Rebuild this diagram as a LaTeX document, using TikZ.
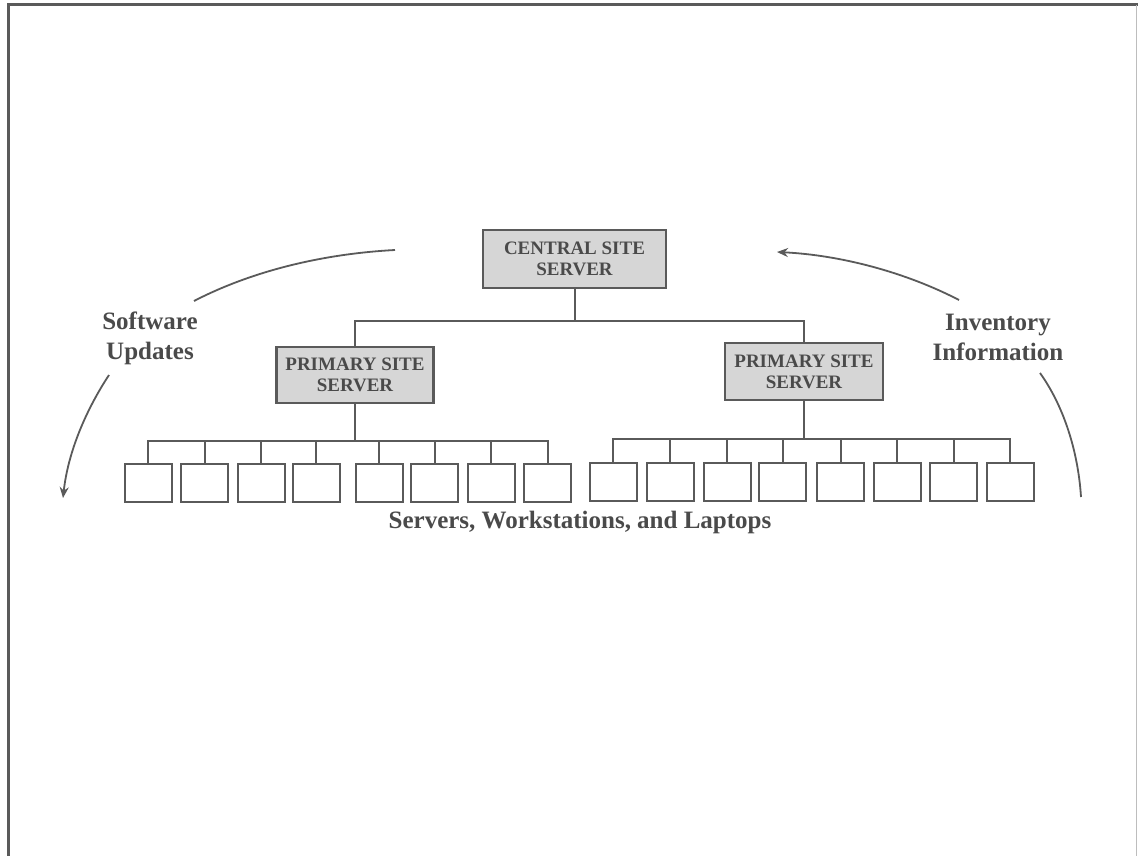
\documentclass[tikz,border=0pt]{standalone}
\usepackage{fontspec}
\setmainfont{Liberation Serif}
\usetikzlibrary{arrows.meta}
\definecolor{ink}{HTML}{5A5A5A}
\definecolor{txt}{HTML}{4A4A4A}
\definecolor{boxfill}{HTML}{D6D6D6}
\begin{document}
\begin{tikzpicture}[x=1pt,y=-1pt,
  line/.style={draw=ink,line width=2pt},
  server/.style={draw=ink,line width=2.2pt,fill=boxfill,inner sep=0pt,
    align=center,text=txt,font=\fontsize{19}{21}\selectfont\bfseries},
  leaf/.style={draw=ink,line width=2pt,fill=white,minimum width=47pt,
    minimum height=38pt,inner sep=0pt},
  caption/.style={text=txt,align=center,font=\fontsize{25}{30}\selectfont\bfseries},
  flow/.style={draw=ink,line width=1.8pt},
  tip/.style={-{Stealth[length=11pt,width=9pt]}}]
\useasboundingbox (0,0) rectangle (1138,856);
\fill[white] (0,0) rectangle (1138,856);

% page frame
\draw[ink,line width=3pt] (8,856) -- (8,5) -- (1138,5);
\draw[ink!40,line width=1pt] (1136.5,5) -- (1136.5,856);

% servers
\node[server,minimum width=183pt,minimum height=58pt] (central) at (574.5,259)
  {CENTRAL SITE\\SERVER};
\node[server,minimum width=157pt,minimum height=56pt] (pl) at (355,375)
  {PRIMARY SITE\\SERVER};
\node[server,minimum width=158pt,minimum height=57pt] (pr) at (804,371.5)
  {PRIMARY SITE\\SERVER};

\draw[line] (central.south) -- ++(0,32) -| (pl.north);
\draw[line] (central.south) -- ++(0,32) -| (pr.north);

% client machines
\foreach \x [count=\i] in {148,204.5,261,316,379,434.5,491,547.5}
  \node[leaf] (l\i) at (\x,483) {};
\foreach \x [count=\i] in {613,670,727,782.5,840.5,897,953.5,1010}
  \node[leaf] (r\i) at (\x,482) {};

\foreach \i in {1,...,8} {
  \draw[line] (pl.south) -- ++(0,37) -| (l\i.north);
  \draw[line] (pr.south) -- ++(0,38) -| (r\i.north);
}

\node[caption] (clients) at (580,522) {Servers, Workstations, and Laptops};

% flow labels
\node[caption] (sw) at (150,338) {Software\\Updates};
\node[caption] (inv) at (998,337) {Inventory\\Information};

% flow arcs
\coordinate (swA) at (395,250);
\coordinate (swB) at (194,301);
\coordinate (swC) at (109,375);
\coordinate (swD) at (63,498);
\coordinate (invA) at (1040,373);
\coordinate (invB) at (1081,497);
\coordinate (invC) at (959,300);
\coordinate (invD) at (777,252);

\draw[flow] (swA) .. controls (320,254) and (250,272) .. (swB);
\draw[flow,tip] (swC) .. controls (86,410) and (68,452) .. (swD);
\draw[flow] (invA) .. controls (1063,405) and (1078,450) .. (invB);
\draw[flow,tip] (invC) .. controls (905,272) and (840,255) .. (invD);
\end{tikzpicture}
\end{document}
